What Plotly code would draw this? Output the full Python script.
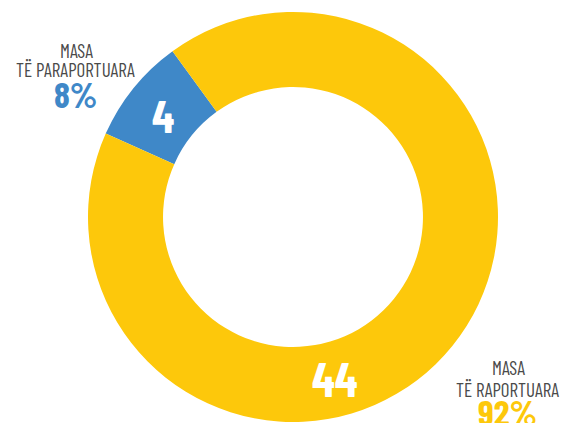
import plotly.graph_objects as go

labels = ["MASA TË PARAPORTUARA", "MASA TË RAPORTUARA"]
label_lines = [["MASA", "TË PARAPORTUARA"], ["MASA", "TË RAPORTUARA"]]
values = [4, 44]
percents = ["8%", "92%"]
colors = ["#3F88C8", "#FDC80B"]

# page body has an 8px margin; figure sized to fill the rest of the 568x423 window
OFF = 8
W, H = 568 - OFF, 423 - OFF
FONT = "Barlow Condensed, Roboto Condensed, sans-serif"
GRAY = "#4a4a4a"


def px(x, y):
    return (x - OFF) / W, 1 - (y - OFF) / H


# pie: centre (293,217) page px, outer radius 205
cx, cy, r = 293, 217, 205
x0, _ = px(cx - r, 0)
x1, _ = px(cx + r, 0)
_, y1 = px(0, cy - r)
_, y0 = px(0, cy + r)

fig = go.Figure(go.Pie(
    labels=labels, values=values, sort=False, direction="clockwise",
    rotation=-66, hole=0.634, textinfo="none", hoverinfo="label+value",
    marker=dict(colors=colors, line=dict(width=0)),
    domain=dict(x=[x0, x1], y=[y0, y1]),
    showlegend=False,
))

anns = []


def add(text, x, y, size, color, bold=False):
    ax, ay = px(x, y)
    t = f"<b>{text}</b>" if bold else text
    anns.append(dict(text=t, x=ax, y=ay, xref="paper", yref="paper",
                     xanchor="center", yanchor="middle", showarrow=False,
                     font=dict(family=FONT, size=size, color=color)))


# slice value labels
add(str(values[0]), 163, 114, 46, "white", True)
add(str(values[1]), 335, 378, 47, "white", True)

# left label
add(label_lines[0][0], 76, 50, 19, GRAY)
add(label_lines[0][1], 75, 70, 19, GRAY)
add(percents[0], 75, 94, 36, colors[0], True)

# right label
add(label_lines[1][0], 508, 367, 19, GRAY)
add(label_lines[1][1], 507, 389, 19, GRAY)
add(percents[1], 507, 411, 36, colors[1], True)

fig.update_layout(
    width=W, height=H, margin=dict(l=0, r=0, t=0, b=0),
    paper_bgcolor="white", plot_bgcolor="white",
    annotations=anns,
)

fig.write_html("out.html")
